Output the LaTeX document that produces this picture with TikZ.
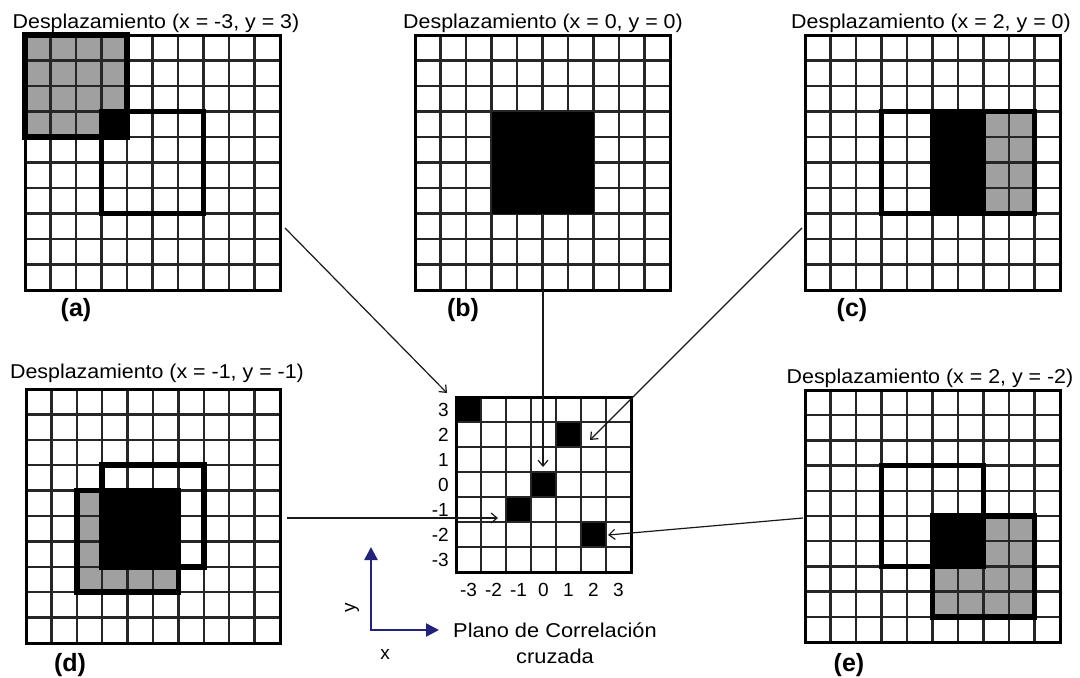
\documentclass[tikz,border=0pt]{standalone}
\usepackage{fontspec}
\setmainfont{Liberation Sans}
\usetikzlibrary{arrows.meta}
\definecolor{cellgray}{RGB}{160,160,160}
\definecolor{axisblue}{RGB}{35,35,125}
\newcommand{\widetxt}[2][1.07]{\scalebox{#1}[1]{#2}}
\tikzset{
  gridline/.style={line width=2.3pt, black!85},
  gridborder/.style={line width=3pt, black},
  window/.style={line width=5.5pt, black, line join=miter},
  ttl/.style={font=\fontsize{20}{24}\selectfont, inner sep=0pt, anchor=base},
  sublabel/.style={font=\fontsize{25}{28}\selectfont\bfseries, inner sep=0pt, anchor=base},
  tick/.style={font=\fontsize{19}{21}\selectfont, inner sep=0pt},
  conn/.style={line width=1.2pt, black!90, -{Straight Barb[length=6pt,width=10pt,line width=1.2pt]}},
  axisarrow/.style={line width=2.4pt, axisblue, {Triangle[length=13pt,width=13pt]}-{Triangle[length=13pt,width=13pt]}},
}
% 10x10 grid in cell units
\newcommand{\gridlines}{%
  \foreach \i in {1,...,9} {
    \draw[gridline] (\i,0) -- (\i,10);
    \draw[gridline] (0,\i) -- (10,\i);
  }
  \draw[gridborder] (0,0) rectangle (10,10);
}
\begin{document}
\begin{tikzpicture}[x=1pt,y=-1pt]
\useasboundingbox[fill=white] (0,0) rectangle (1080,678);

% ---------- (a)
\begin{scope}[shift={(25pt,-35pt)}, x=25.5pt, y=-25.5pt]
  \fill[cellgray] (0,0) rectangle (4,4);
  \fill[black] (3,3) rectangle (4,4);
  \gridlines
  \draw[window] (0,0) rectangle (4,4);
  \draw[window] (3,3) rectangle (7,7);
\end{scope}
% ---------- (b)
\begin{scope}[shift={(415pt,-35pt)}, x=25.5pt, y=-25.5pt]
  \fill[black] (3,3) rectangle (7,7);
  \gridlines
  \fill[black] (3,3) rectangle (7,7);
\end{scope}
% ---------- (c)
\begin{scope}[shift={(805pt,-35pt)}, x=25.5pt, y=-25.5pt]
  \fill[cellgray] (7,3) rectangle (9,7);
  \fill[black] (5,3) rectangle (7,7);
  \gridlines
  \draw[window] (3,3) rectangle (7,7);
  \draw[window] (5,3) rectangle (9,7);
  \fill[black] (5,3) rectangle (7,7);
\end{scope}
% ---------- (d)
\begin{scope}[shift={(26pt,-389pt)}, x=25.4pt, y=-25.4pt]
  \fill[cellgray] (2,4) rectangle (6,8);
  \fill[black] (3,4) rectangle (6,7);
  \gridlines
  \draw[window] (3,3) rectangle (7,7);
  \draw[window] (2,4) rectangle (6,8);
  \fill[black] (3,4) rectangle (6,7);
\end{scope}
% ---------- (e)
\begin{scope}[shift={(805pt,-390pt)}, x=25.5pt, y=-25.2pt]
  \fill[cellgray] (5,5) rectangle (9,9);
  \fill[black] (5,5) rectangle (7,7);
  \gridlines
  \draw[window] (3,3) rectangle (7,7);
  \draw[window] (5,5) rectangle (9,9);
  \fill[black] (5,5) rectangle (7,7);
\end{scope}

% ---------- centre correlation plane
\begin{scope}[shift={(456pt,-397pt)}, x=25pt, y=-25pt]
  \fill[black] (0,0) rectangle (1,1);
  \fill[black] (4,1) rectangle (5,2);
  \fill[black] (3,3) rectangle (4,4);
  \fill[black] (2,4) rectangle (3,5);
  \fill[black] (5,5) rectangle (6,6);
  \foreach \i in {1,...,6} {
    \draw[gridline] (\i,0) -- (\i,7);
    \draw[gridline] (0,\i) -- (7,\i);
  }
  \draw[gridborder] (0,0) rectangle (7,7);
\end{scope}
\foreach \v [count=\k from 0] in {3,2,1,0,-1,-2,-3} {
  \node[tick, anchor=east] (ylab\k) at (449, 409.5+25*\k) {\v};
}
\foreach \v [count=\k from 0] in {-3,-2,-1,0,1,2,3} {
  \node[tick] (xlab\k) at (468.5+25*\k, 590) {\v};
}

% ---------- titles
\node[ttl] (ta) at (156,28) {\widetxt{Desplazamiento (x = -3, y = 3)}};
\node[ttl] (tb) at (543,28) {\widetxt{Desplazamiento (x = 0, y = 0)}};
\node[ttl] (tc) at (931,28) {\widetxt{Desplazamiento (x = 2, y = 0)}};
\node[ttl] (td) at (157,378) {\widetxt{Desplazamiento (x = -1, y = -1)}};
\node[ttl] (te) at (930,383) {\widetxt{Desplazamiento (x = 2, y = -2)}};

% ---------- sub-labels
\node[sublabel] (la) at (76,316) {(a)};
\node[sublabel] (lb) at (463,316) {(b)};
\node[sublabel] (lc) at (852,316) {(c)};
\node[sublabel] (ld) at (70,671) {(d)};
\node[sublabel] (le) at (849,671) {(e)};

% ---------- connectors
\coordinate (aout) at (285,228);  \coordinate (ain) at (447,393);
\coordinate (bout) at (543,290);  \coordinate (bin) at (543,467);
\coordinate (cout) at (802,228);  \coordinate (cin) at (590,440);
\coordinate (dout) at (287,518);  \coordinate (din) at (498,518);
\coordinate (eout) at (803,518);  \coordinate (ein) at (608,535);
\draw[conn] (aout) -- (ain);
\draw[conn] (bout) -- (bin);
\draw[conn] (cout) -- (cin);
\draw[conn] (dout) -- (din);
\draw[conn] (eout) -- (ein);

% ---------- axes
\coordinate (orig) at (371,630);
\coordinate (ytip) at (371,547);
\coordinate (xtip) at (439,630);
\draw[axisarrow] (ytip) -- (orig) -- (xtip);
\node[tick, rotate=90, inner sep=0pt] (ylabel) at (352,608) {y};
\node[tick, inner sep=0pt] (xlabel) at (385,654) {x};
\node[ttl, anchor=base] (plano1) at (555,637) {\widetxt[1.09]{Plano de Correlación}};
\node[ttl, anchor=base] (plano2) at (555,663) {\widetxt[1.09]{cruzada}};
\end{tikzpicture}
\end{document}
